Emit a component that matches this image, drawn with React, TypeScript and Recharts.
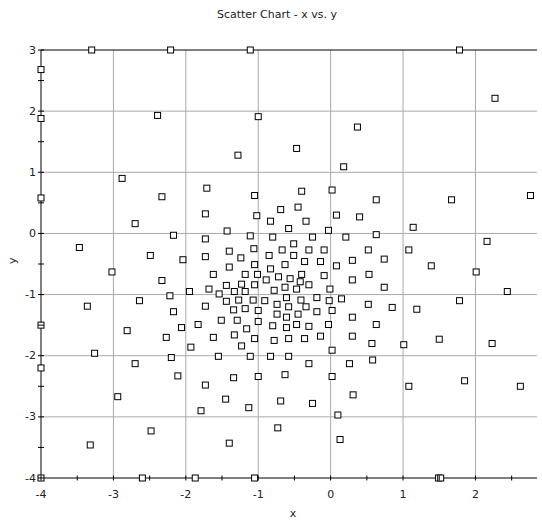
import React from "react";
import { ScatterChart, Scatter, XAxis, YAxis, ReferenceLine } from "recharts";

// values
const xs = [
	-3.3, -2.21, -1.11, 1.78, -4, -4, -2.39, -1.0, 2.27, -1.28,
	-0.47, 0.37, 0.18, -2.88, -4, -2.33, -2.7, -2.17, -3.47, -2.49,
	-2.04, -1.71, -1.05, -0.4, 0.02, 0.63, 1.67, 2.76, -1.73, -1.02,
	-0.69, -0.45, 0.08, 0.4, 1.14, -0.83, -0.34, -0.58, -1.43, -0.03,
	-1.73, -1.11, -0.8, -0.25, 0.21, 0.63, 2.16, -0.51, -1.06, -1.4,
	-0.67, -0.3, -0.09, 0.52, 1.08, -1.73, -1.24, -0.85, -0.51, 0.74,
	-3.02, -2.33, -1.95, -2.22, -2.64, -3.36, -2.17, -4, -2.81, -2.27,
	-2.06, -1.83, -1.93, -3.26, -2.2, -2.7, -4, -2.11, -2.94, -1.79,
	-2.48, -3.32, -4, -2.6, -1.87, -1.4, -1.05, -0.83, -0.63, -0.36,
	-0.14, 0.3, 0.08, 0.53, -1.62, -1.18, -1.01, -0.72, -0.56, -0.4,
	-0.09, -0.89, -0.42, -0.3, 0.3, -1.44, -1.23, -1.05, -0.63, -0.47,
	-1.68, -1.33, -1.18, -1.54, -0.78, -0.01, -1.44, -1.27, -1.07, -0.91,
	-0.61, -0.41, -0.19, -0.02, 0.15, 0.52, -1.73, -1.34, -1.18, -1.0,
	-0.74, -0.58, -0.34, -0.19, 0.02, -0.74, -0.45, -0.61, 0.3, -1.51,
	-1.29, -1.0, -0.8, -0.61, -0.47, -0.3, -0.03, 0.63, -1.16, -1.62,
	-1.33, -1.05, -0.78, -0.58, -0.36, -0.14, 0.3, 0.57, -1.23, 0.02,
	-1.55, -1.11, -0.83, -0.58, 0.58, -0.3, 0.26, -1.34, -1.0, -0.63,
	0.02, -1.73, 0.31, -1.45, -0.69, -0.25, -1.13, 0.1, -0.73, -1.4,
	0.13, -1.05, 1.39, 2.01, 0.74, 2.44, 0.85, 1.19, 1.78, 1.01,
	1.5, 2.23, 1.08, 1.85, 2.62, 1.49, 1.52,
];

const ys = [
	3, 3, 3, 3, 2.68, 1.88, 1.93, 1.91, 2.21, 1.28,
	1.39, 1.74, 1.09, 0.9, 0.58, 0.6, 0.16, -0.03, -0.23, -0.36,
	-0.43, 0.74, 0.62, 0.69, 0.71, 0.55, 0.55, 0.62, 0.32, 0.29,
	0.39, 0.43, 0.3, 0.27, 0.1, 0.2, 0.2, 0.08, 0.04, 0.05,
	-0.09, -0.04, -0.06, -0.06, -0.06, -0.02, -0.13, -0.17, -0.25, -0.29,
	-0.27, -0.27, -0.27, -0.27, -0.27, -0.38, -0.4, -0.36, -0.36, -0.42,
	-0.63, -0.77, -0.95, -1.02, -1.1, -1.19, -1.28, -1.5, -1.59, -1.7,
	-1.54, -1.49, -1.86, -1.96, -2.03, -2.13, -2.2, -2.33, -2.67, -2.9,
	-3.23, -3.46, -4, -4, -4, -0.55, -0.51, -0.58, -0.51, -0.46,
	-0.46, -0.44, -0.53, -0.67, -0.67, -0.67, -0.67, -0.71, -0.74, -0.67,
	-0.69, -0.76, -0.79, -0.84, -0.76, -0.85, -0.83, -0.84, -0.88, -0.91,
	-0.91, -0.95, -0.95, -0.99, -0.93, -0.91, -1.11, -1.09, -1.09, -1.1,
	-1.05, -1.09, -1.05, -1.1, -1.07, -1.16, -1.19, -1.25, -1.23, -1.26,
	-1.16, -1.2, -1.2, -1.28, -1.26, -1.32, -1.32, -1.37, -1.37, -1.42,
	-1.42, -1.44, -1.51, -1.54, -1.49, -1.52, -1.49, -1.49, -1.56, -1.7,
	-1.66, -1.72, -1.75, -1.72, -1.72, -1.68, -1.68, -1.8, -1.84, -1.91,
	-2.01, -2.01, -2.01, -2.01, -2.07, -2.13, -2.13, -2.36, -2.34, -2.31,
	-2.34, -2.48, -2.64, -2.71, -2.74, -2.78, -2.85, -2.97, -3.18, -3.43,
	-3.37, -4, -0.53, -0.63, -0.88, -0.95, -1.21, -1.24, -1.1, -1.82,
	-1.73, -1.8, -2.5, -2.41, -2.5, -4, -4,
];

const xTicks = [-4, -3.5, -3, -2.5, -2, -1.5, -1, -0.5, 0, 0.5, 1, 1.5, 2, 2.5];
const yTicks = [-4, -3.5, -3, -2.5, -2, -1.5, -1, -0.5, 0, 0.5, 1, 1.5, 2, 2.5, 3];
const xGrid = [-3, -2, -1, 0, 1, 2];
const yGrid = [-3, -2, -1, 0, 1, 2];

const data = xs.map((x, i) => ({ x, y: ys[i] }));

const FONT = "'DejaVu Sans', Verdana, sans-serif";
const TEXT = "#222";

const XTick = ({ x, y, payload }: any) => {
	const v = payload.value;
	return (
		<g>
			<line x1={x} x2={x} y1={y - 2.5} y2={y + 2.5} stroke='#000' />
			{Number.isInteger(v) && (
				<text x={x} y={y + 16} textAnchor='middle' dominantBaseline='central' fontSize={11} fontFamily={FONT} fill={TEXT}>
					{v}
				</text>
			)}
		</g>
	);
};

const YTick = ({ x, y, payload }: any) => {
	const v = payload.value;
	return (
		<g>
			<line x1={x - 3} x2={x + 3} y1={y} y2={y} stroke='#000' />
			{Number.isInteger(v) && (
				<text x={x - 5} y={y} textAnchor='end' dominantBaseline='central' fontSize={11} fontFamily={FONT} fill={TEXT}>
					{v}
				</text>
			)}
		</g>
	);
};

const Square = (props: any) => {
	const { cx, cy } = props;
	return <rect x={cx - 3} y={cy - 3} width={6} height={6} fill='#fff' stroke='#000' strokeWidth={1} />;
};

export default function App() {
	return (
		<div style={{ position: "absolute", left: 0, top: 0, width: 542, height: 522, background: "#fff" }}>
			<div
				style={{
					position: "absolute",
					top: 8,
					left: 0,
					width: 542,
					paddingLeft: 12,
					boxSizing: "border-box",
					textAlign: "center",
					fontFamily: FONT,
					fontSize: 11,
					color: TEXT,
				}}
			>
				Scatter Chart - x vs. y
			</div>
			<ScatterChart width={542} height={522} margin={{ top: 50, right: 5, left: 0, bottom: 0 }}>
				{xGrid.map((v) => (
					<ReferenceLine key={`gx${v}`} x={v} stroke='#aaa' strokeWidth={1} />
				))}
				{yGrid.map((v) => (
					<ReferenceLine key={`gy${v}`} y={v} stroke='#aaa' strokeWidth={1} />
				))}
				<ReferenceLine y={3} stroke='#000' strokeWidth={1} />
				<XAxis
					type='number'
					dataKey='x'
					domain={[-4, 2.85]}
					ticks={xTicks}
					interval={0}
					height={44}
					tickSize={0}
					tickMargin={0}
					tickLine={false}
					axisLine={{ stroke: "#000" }}
					tick={<XTick />}
					label={{ value: "x", position: "insideBottom", offset: 5, fontSize: 11, fontFamily: FONT, fill: TEXT, dx: 4 }}
				/>
				<YAxis
					type='number'
					dataKey='y'
					domain={[-4, 3]}
					ticks={yTicks}
					interval={0}
					width={41}
					tickSize={0}
					tickMargin={0}
					tickLine={false}
					axisLine={{ stroke: "#000" }}
					tick={<YTick />}
					label={{ value: "y", angle: -90, position: "insideLeft", offset: 12, fontSize: 11, fontFamily: FONT, fill: TEXT }}
				/>
				<Scatter data={data} shape={<Square />} isAnimationActive={false} />
			</ScatterChart>
		</div>
	);
}
